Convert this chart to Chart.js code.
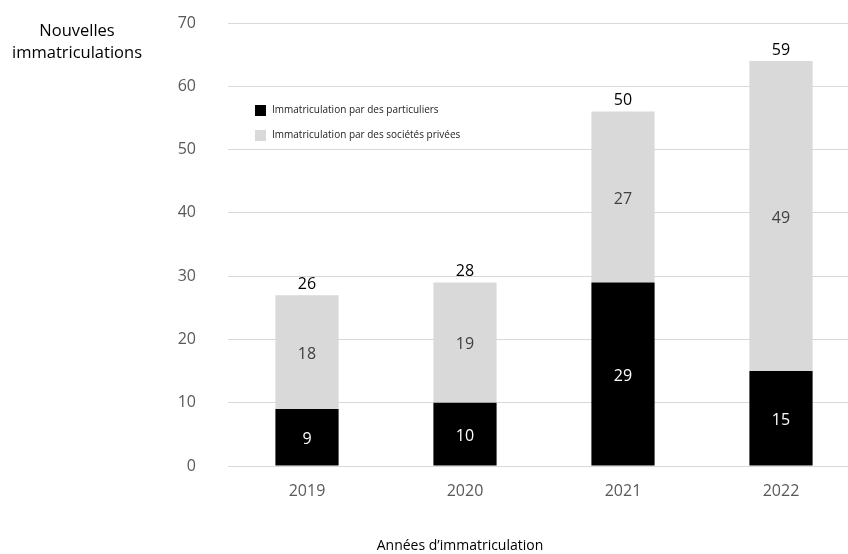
<!DOCTYPE html>
<html>
<head>
<meta charset="utf-8">
<script src="https://cdn.jsdelivr.net/npm/chart.js@4/dist/chart.umd.min.js"></script>
<style>
  html, body { margin: 0; padding: 0; background: #fff; overflow: hidden; }
  #wrap { width: 880px; height: 554px; }
</style>
</head>
<body>
<div id="wrap"><canvas id="c" width="880" height="554"></canvas></div>
<script>
const years = ['2019', '2020', '2021', '2022'];
const particuliers = [9, 10, 29, 15];
const societes = [18, 19, 27, 49];
// totals as printed above the bars
const totalLabels = [26, 28, 50, 59];
const yTicks = [0, 10, 20, 30, 40, 50, 60, 70];

const FONT = '"Open Sans", "Noto Sans", sans-serif';
const BLACK = '#000000';
const GREY = '#d9d9d9';

// value labels, totals, legend and axis titles
const annotate = {
  id: 'annotate',
  afterDatasetsDraw(chart) {
    const ctx = chart.ctx;
    ctx.save();
    ctx.textAlign = 'center';
    ctx.textBaseline = 'middle';
    ctx.font = '16px ' + FONT;

    chart.getDatasetMeta(0).data.forEach((bar, i) => {
      ctx.fillStyle = '#ffffff';
      ctx.fillText(String(particuliers[i]), bar.x, (bar.y + bar.base) / 2 + 2);
    });
    chart.getDatasetMeta(1).data.forEach((bar, i) => {
      ctx.fillStyle = '#404040';
      ctx.fillText(String(societes[i]), bar.x, (bar.y + bar.base) / 2 + 2);
      ctx.fillStyle = BLACK;
      ctx.fillText(String(totalLabels[i]), bar.x, bar.y - 11);
    });

    // legend
    const lx = 255, ly = [110, 135];
    const items = [
      ['Immatriculation par des particuliers', BLACK],
      ['Immatriculation par des sociétés privées', GREY],
    ];
    ctx.font = '10px ' + FONT;
    ctx.textAlign = 'left';
    items.forEach(([text, color], k) => {
      ctx.fillStyle = color;
      ctx.fillRect(lx, ly[k] - 5, 11, 11);
      ctx.fillStyle = '#222';
      ctx.fillText(text, lx + 17, ly[k]);
    });

    // axis titles
    ctx.fillStyle = BLACK;
    ctx.textAlign = 'center';
    ctx.font = '16.5px ' + FONT;
    ctx.fillText('Nouvelles', 77, 31);
    ctx.fillText('immatriculations', 77, 53);
    ctx.font = '14px ' + FONT;
    ctx.fillText('Années d\u2019immatriculation', 460, 546);
    ctx.restore();
  },
};

new Chart(document.getElementById('c'), {
  type: 'bar',
  data: {
    labels: years,
    datasets: [
      {
        label: 'Immatriculation par des particuliers',
        data: particuliers,
        backgroundColor: BLACK,
        barPercentage: 0.4,
        categoryPercentage: 1,
      },
      {
        label: 'Immatriculation par des sociétés privées',
        data: societes,
        backgroundColor: GREY,
        barPercentage: 0.4,
        categoryPercentage: 1,
      },
    ],
  },
  options: {
    responsive: false,
    animation: false,
    layout: { padding: { top: 23, right: 20, left: 0, bottom: 0 } },
    plugins: { legend: { display: false }, tooltip: { enabled: false } },
    scales: {
      x: {
        stacked: true,
        grid: { display: false, drawTicks: false },
        border: { display: true, color: '#d9d9d9', width: 1 },
        ticks: { color: '#595959', font: { family: FONT, size: 16 }, padding: 16 },
        afterFit: (s) => { s.height = 88; },
      },
      y: {
        stacked: true,
        min: 0,
        max: 70,
        afterBuildTicks: (s) => { s.ticks = yTicks.map((v) => ({ value: v })); },
        grid: { color: '#d9d9d9', drawTicks: false },
        border: { display: false },
        ticks: { color: '#595959', font: { family: FONT, size: 16 }, padding: 32 },
        afterFit: (s) => { s.width = 228; s.paddingTop = 0; s.paddingBottom = 0; },
      },
    },
  },
  plugins: [annotate],
});
</script>
</body>
</html>
